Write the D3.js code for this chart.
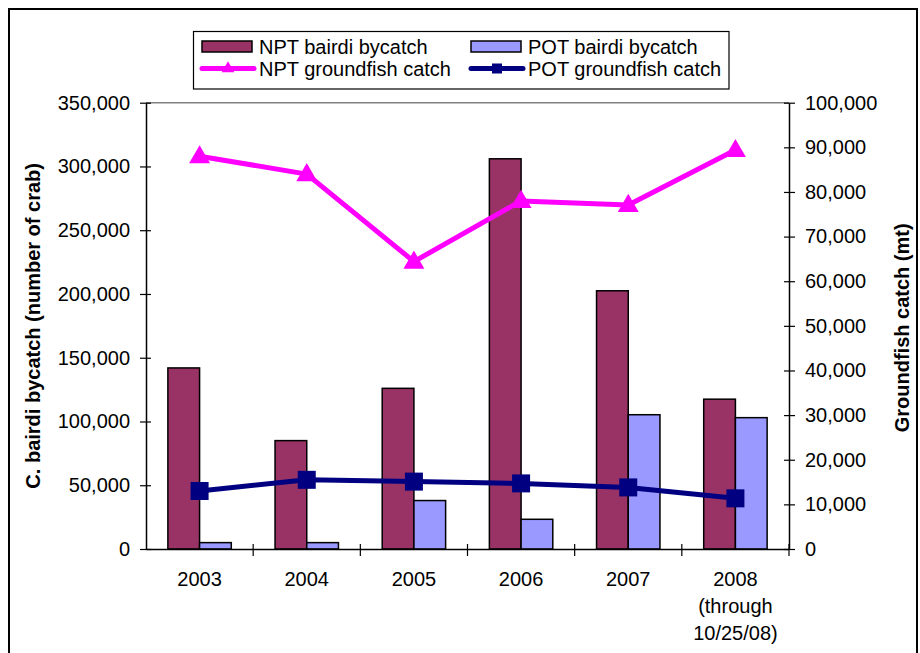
<!DOCTYPE html>
<html><head><meta charset="utf-8">
<script src="https://cdn.jsdelivr.net/npm/d3@7"></script>
<style>
body{margin:0;background:#fff;}
text{font-family:"Liberation Sans",Arial,sans-serif;fill:#000;}
</style></head>
<body>
<svg id="chart" width="920" height="653"></svg>
<script>
const years = ["2003","2004","2005","2006","2007","2008"];
const yearSub = ["","","","","","(through|10/25/08)"];
const nptBycatch = [142000, 85000, 126000, 306000, 202500, 117500];
const potBycatch = [5000, 5000, 38000, 23300, 105300, 103000];
const nptGroundfish = [88000, 84000, 64400, 78000, 77100, 89400];
const potGroundfish = [13000, 15500, 15100, 14700, 13800, 11350];
const leftTicks = [0,50000,100000,150000,200000,250000,300000,350000];
const rightTicks = [0,10000,20000,30000,40000,50000,60000,70000,80000,90000,100000];

const svg = d3.select("#chart");
const L=146, R=789, T=102.7, B=549;
const fmt = d3.format(",");
const FS = 20;

// outer border
svg.append("rect").attr("x",9).attr("y",9).attr("width",908).attr("height",680)
  .attr("fill","none").attr("stroke","#000").attr("stroke-width",2);

const x0 = d3.scaleBand().domain(years).range([L,R]).padding(0);
const x1 = d3.scaleBand().domain(["npt","pot"]).range([0,x0.bandwidth()]).paddingInner(0).paddingOuter(0.69);
const yL = d3.scaleLinear().domain([0,350000]).range([B,T]);
const yR = d3.scaleLinear().domain([0,100000]).range([B,T]);

// top border of plot
svg.append("line").attr("x1",L).attr("x2",R).attr("y1",T).attr("y2",T).attr("stroke","#808080").attr("stroke-width",1.5);

// bars
const barData = years.map((y,i)=>({y, npt:nptBycatch[i], pot:potBycatch[i]}));
const colors = {npt:"#993366", pot:"#9999FF"};
const g = svg.append("g");
barData.forEach(d=>{
  ["npt","pot"].forEach(k=>{
    g.append("rect")
      .attr("x", x0(d.y)+x1(k))
      .attr("y", yL(d[k]))
      .attr("width", x1.bandwidth())
      .attr("height", B - yL(d[k]))
      .attr("fill", colors[k]).attr("stroke","#000").attr("stroke-width",1.5);
  });
});

// axes
const axL = svg.append("g").attr("transform",`translate(${L},0)`)
  .call(d3.axisLeft(yL).tickValues(leftTicks).tickFormat(fmt).tickSizeInner(6).tickSizeOuter(0).tickPadding(10));
axL.selectAll(".tick line").attr("x2",5).attr("x1",-6);
const axR = svg.append("g").attr("transform",`translate(${R},0)`)
  .call(d3.axisRight(yR).tickValues(rightTicks).tickFormat(fmt).tickSizeInner(6).tickSizeOuter(0).tickPadding(10));
axR.selectAll(".tick line").attr("x1",-5).attr("x2",6);
const axB = svg.append("g").attr("transform",`translate(0,${B})`)
  .call(d3.axisBottom(x0).tickValues([]).tickSizeOuter(0));
[axL,axR,axB].forEach(a=>{
  a.select(".domain").attr("stroke","#000").attr("stroke-width",1.5);
  a.selectAll(".tick line").attr("stroke","#000").attr("stroke-width",1.2);
  a.selectAll("text").attr("font-size",FS).attr("font-family","Liberation Sans, Arial, sans-serif");
});
// category boundary ticks
const bounds = years.map(y=>x0(y)).concat([R]).slice(1);
svg.append("g").selectAll("line").data(bounds).join("line")
  .attr("x1",d=>d).attr("x2",d=>d).attr("y1",B-5).attr("y2",B+7)
  .attr("stroke","#000").attr("stroke-width",1.2);

// category labels
const lab = svg.append("g");
years.forEach((y,i)=>{
  const cx = x0(y)+x0.bandwidth()/2;
  const t = lab.append("text").attr("x",cx).attr("y",586).attr("text-anchor","middle").attr("font-size",FS);
  t.append("tspan").attr("x",cx).text(y);
  if(yearSub[i]) yearSub[i].split("|").forEach(s=>{
    t.append("tspan").attr("x",cx).attr("dy",27).text(s);
  });
});

// lines
const cx = d=>x0(d)+x0.bandwidth()/2;
const lineN = d3.line().x((d,i)=>cx(years[i])).y(d=>yR(d));
svg.append("path").datum(nptGroundfish).attr("d",lineN).attr("fill","none").attr("stroke","#FF00FF").attr("stroke-width",5).attr("stroke-linejoin","round");
svg.append("path").datum(potGroundfish).attr("d",lineN).attr("fill","none").attr("stroke","#000080").attr("stroke-width",5).attr("stroke-linejoin","round");
const tri = d3.symbol().type(d3.symbolTriangle).size(190);
svg.append("g").selectAll("path").data(nptGroundfish).join("path")
  .attr("d",tri).attr("transform",(d,i)=>`translate(${cx(years[i])},${yR(d)+1})`).attr("fill","#FF00FF");
svg.append("g").selectAll("rect").data(potGroundfish).join("rect")
  .attr("x",(d,i)=>cx(years[i])-9).attr("y",d=>yR(d)-9).attr("width",18).attr("height",18).attr("fill","#000080");

// axis titles
svg.append("text").attr("transform",`translate(33,${(T+B)/2}) rotate(-90)`).attr("text-anchor","middle")
  .attr("dominant-baseline","central").attr("font-size",20).attr("font-weight","bold").text("C. bairdi bycatch (number of crab)");
svg.append("text").attr("transform",`translate(902,${(T+B)/2+2}) rotate(-90)`).attr("text-anchor","middle")
  .attr("dominant-baseline","central").attr("font-size",20).attr("font-weight","bold").text("Groundfish catch (mt)");

// legend
const lg = svg.append("g");
lg.append("rect").attr("x",193.5).attr("y",31.5).attr("width",535.5).attr("height",57.5).attr("fill","#fff").attr("stroke","#000").attr("stroke-width",1.2);
const legItems = [
  {name:"NPT bairdi bycatch", type:"bar", color:colors.npt, x:202, row:0},
  {name:"POT bairdi bycatch", type:"bar", color:colors.pot, x:471, row:0},
  {name:"NPT groundfish catch", type:"tri", color:"#FF00FF", x:202, row:1},
  {name:"POT groundfish catch", type:"sq", color:"#000080", x:471, row:1}
];
legItems.forEach(it=>{
  const yc = it.row===0 ? 46.5 : 68.5;
  if(it.type==="bar"){
    lg.append("rect").attr("x",it.x).attr("y",yc-5.5).attr("width",50).attr("height",11).attr("fill",it.color).attr("stroke","#000").attr("stroke-width",1.5);
  } else {
    lg.append("line").attr("x1",it.x).attr("x2",it.x+52).attr("y1",yc).attr("y2",yc).attr("stroke",it.color).attr("stroke-width",5).attr("stroke-linecap","round");
    if(it.type==="tri") lg.append("path").attr("d",d3.symbol().type(d3.symbolTriangle).size(70)()).attr("transform",`translate(${it.x+26},${yc})`).attr("fill",it.color);
    else lg.append("rect").attr("x",it.x+21).attr("y",yc-5).attr("width",10).attr("height",10).attr("fill",it.color);
  }
  lg.append("text").attr("x",it.x+57).attr("y",yc+7).attr("font-size",FS).text(it.name);
});
</script>
</body></html>
